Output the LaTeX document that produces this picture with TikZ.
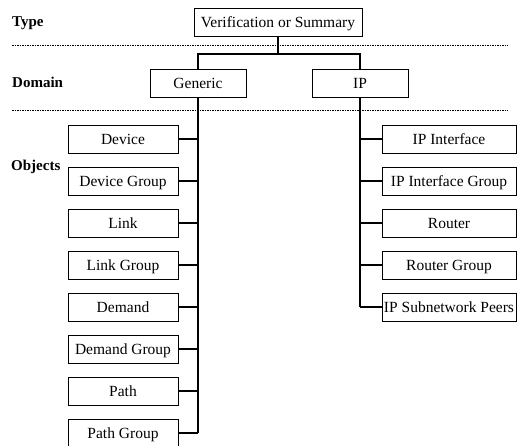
\documentclass[tikz,border=0pt]{standalone}
\usepackage{fontspec}
\setmainfont{Liberation Serif}
\begin{document}
\begin{tikzpicture}[x=1pt,y=-1pt,
  every node/.style={font=\fontsize{15.5}{18}\selectfont},
  box/.style={draw, line width=0.8pt, inner sep=0pt, minimum height=28pt,
    text height=12pt, text depth=2pt},
  objbox/.style={box, minimum width=110pt},
  ipbox/.style={box, minimum width=134pt},
  level/.style={font=\fontsize{15}{18}\selectfont\bfseries, anchor=base west, inner sep=0pt},
  sep/.style={line width=0.6pt, dash pattern=on 1.5pt off 1pt},
  link/.style={line width=1.1pt}]
\useasboundingbox (0,0) rectangle (521,445);

% level labels
\node[level] (ltype) at (12,26) {Type};
\node[level] (ldomain) at (12,87) {Domain};
\node[level] (lobjects) at (11,170) {Objects};

% dashed separators
\coordinate (s1a) at (12,45);  \coordinate (s1b) at (508,45);
\coordinate (s2a) at (12,110); \coordinate (s2b) at (508,110);
\draw[sep] (s1a) -- (s1b);
\draw[sep] (s2a) -- (s2b);

% type and domain boxes
\node[box, minimum width=168pt] (top) at (278,22) {Verification or Summary};
\node[box, minimum width=96pt] (generic) at (198,83.5) {Generic};
\node[box, minimum width=96pt] (ip) at (360,83.5) {IP};

\coordinate (fork) at (278,54);
\draw[link] (top.south) -- (fork);
\draw[link] (generic.north) |- (fork) -| (ip.north);

% generic objects
\foreach \name/\txt [count=\i from 0] in {dev/Device, devg/Device Group, lnk/Link,
    lnkg/Link Group, dem/Demand, demg/Demand Group, pth/Path, pthg/Path Group}{
  \node[objbox] (\name) at (123,{139+42*\i}) {\txt};
}
% IP objects
\foreach \name/\txt [count=\i from 0] in {ipif/IP Interface, ipifg/IP Interface Group,
    rtr/Router, rtrg/Router Group, ipsp/IP Subnetwork Peers}{
  \node[ipbox] (\name) at (449,{139+42*\i}) {\txt};
}

% generic trunk and branches
\draw[link] (generic.south) -- (generic.south |- pthg.east);
\foreach \name in {dev,devg,lnk,lnkg,dem,demg,pth,pthg}{
  \draw[link] (\name.east) -- (generic.south |- \name.east);
}
% IP trunk and branches
\draw[link] (ip.south) -- (ip.south |- ipsp.west);
\foreach \name in {ipif,ipifg,rtr,rtrg,ipsp}{
  \draw[link] (\name.west) -- (ip.south |- \name.west);
}
\end{tikzpicture}
\end{document}
